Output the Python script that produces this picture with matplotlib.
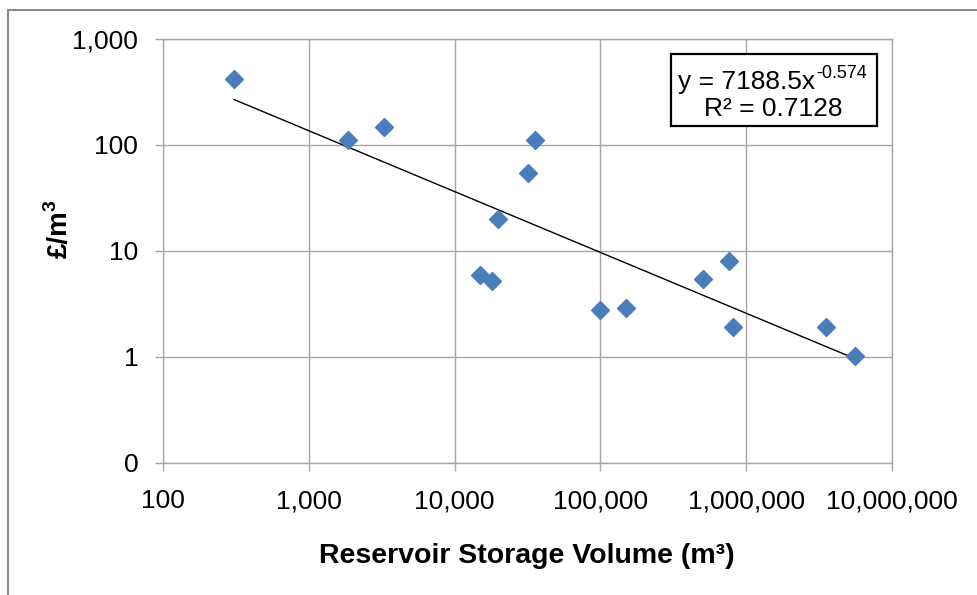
import matplotlib
matplotlib.use("Agg")
import matplotlib.pyplot as plt
import numpy as np
from matplotlib.ticker import FixedLocator, FuncFormatter, NullLocator
from matplotlib.lines import Line2D
from matplotlib.patches import Rectangle

# reservoir storage volume (m3) and cost (£/m3)
volume = [307, 1860, 3280, 35500, 31900, 19900, 14900, 18000,
          100000, 150000, 506000, 762000, 811000, 3520000, 5570000]
cost = [420, 111, 148, 111, 54.5, 20, 5.9, 5.2,
        2.77, 2.9, 5.45, 8.05, 1.92, 1.92, 1.02]

# power-law trendline reported on the chart
coef = 7188.5
expo = "-0.574"
r2 = "0.7128"

x_ticks = [100, 1e3, 1e4, 1e5, 1e6, 1e7]
y_ticks = [0.1, 1, 10, 100, 1000]

W, H = 977, 595
plt.rcParams["font.family"] = ["Liberation Sans", "DejaVu Sans"]


def fx(px):
    return px / W


def fy(py):
    return 1 - py / H


fig = plt.figure(figsize=(W / 100, H / 100), dpi=100)
ax = fig.add_axes([fx(163), fy(463), (892 - 163) / W, (463 - 39) / H])

grid_c = "#a6a6a6"
ax.set_xscale("log")
ax.set_yscale("log")
ax.set_xlim(100, 1e7)
ax.set_ylim(0.1, 1000)

ax.xaxis.set_major_locator(FixedLocator(x_ticks))
ax.yaxis.set_major_locator(FixedLocator(y_ticks))
ax.xaxis.set_minor_locator(NullLocator())
ax.yaxis.set_minor_locator(NullLocator())
fmt = FuncFormatter(lambda v, p: "0" if v < 1 else f"{v:,.0f}")
ax.xaxis.set_major_formatter(fmt)
ax.yaxis.set_major_formatter(fmt)

ax.grid(True, color=grid_c, lw=1)
ax.set_axisbelow(True)
for s in ax.spines.values():
    s.set_color(grid_c)
    s.set_linewidth(1)
ax.tick_params(axis="both", direction="out", length=5.8, width=1, color=grid_c,
               labelsize=19)
ax.tick_params(axis="x", pad=13)
ax.tick_params(axis="y", pad=12)

xl = np.logspace(np.log10(min(volume)), np.log10(max(volume)), 50)
ax.plot(xl, coef * xl ** float(expo), color="black", lw=1, zorder=3)

ax.plot(volume, cost, linestyle="none", marker="D", markersize=9.5,
        color="#4a7ebb", markeredgecolor="#4a7ebb", zorder=4)

# trendline equation box
fig.add_artist(Rectangle((fx(671), fy(126)), (877 - 671) / W, (126 - 54) / H,
                         transform=fig.transFigure, fc="white", ec="black",
                         lw=1.6, zorder=2))
eq = fig.text(fx(678), fy(89), f"y = {coef}x", ha="left", va="baseline",
              fontsize=19, zorder=3)
fig.text(fx(773), fy(116), f"R² = {r2}", ha="center", va="baseline",
         fontsize=19, zorder=3)

fig.text(fx(527), fy(556), "Reservoir Storage Volume (m³)",
         ha="center", va="center", fontsize=20.5, fontweight="bold")
ylab = fig.text(fx(60), fy(234), "£/m", ha="center", va="center",
                rotation=90, fontsize=20, fontweight="bold")

fig.canvas.draw()
bb = eq.get_window_extent()
fig.text(bb.x1 / W + fx(1), fy(78), expo, ha="left", va="baseline",
         fontsize=13, zorder=3)
yb = ylab.get_window_extent()
fig.text(fx(51), (yb.y1 - 1) / H, "3", ha="center", va="bottom",
         rotation=90, fontsize=14, fontweight="bold")

# outer chart border (cut off at right/bottom)
fig.add_artist(Line2D([fx(8), fx(8)], [0, fy(10)],
                      transform=fig.transFigure, color="#8c8c8c", lw=1.5))
fig.add_artist(Line2D([fx(8), 1], [fy(10), fy(10)],
                      transform=fig.transFigure, color="#8c8c8c", lw=1.5))

fig.savefig("out.png", dpi=100)
